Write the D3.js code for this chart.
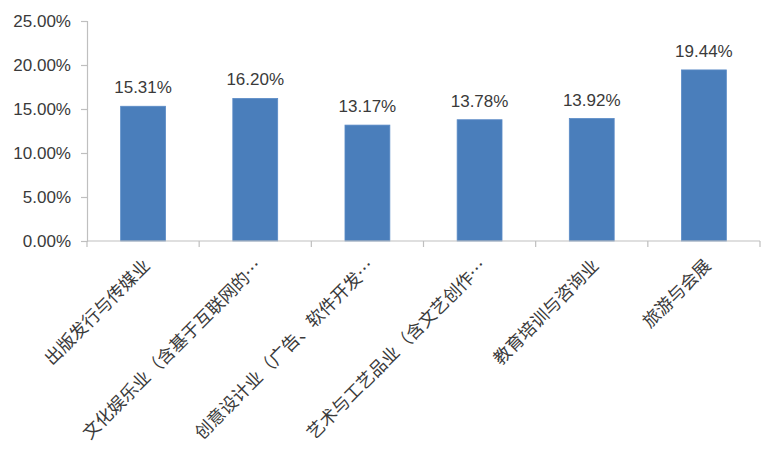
<!DOCTYPE html>
<html>
<head>
<meta charset="utf-8">
<script src="https://cdn.jsdelivr.net/npm/d3@7"></script>
<style>
  html, body { margin: 0; padding: 0; background: #fff; }
  svg { display: block; }
</style>
</head>
<body>
<svg id="chart" width="781" height="458"></svg>
<script>
const categories = [
  "出版发行与传媒业",
  "文化娱乐业（含基于互联网的…",
  "创意设计业（广告、软件开发…",
  "艺术与工艺品业（含文艺创作…",
  "教育培训与咨询业",
  "旅游与会展"
];
const values = [15.31, 16.20, 13.17, 13.78, 13.92, 19.44];
const yTicks = [0, 5, 10, 15, 20, 25];

(function () {
const svg = d3.select("#chart");
const mLeft = 87, mRight = 760, mTop = 21, mBottom = 241;
const axisColor = "#bfbfbf";
const textColor = "#3a3a3a";

const x = d3.scaleBand().domain(categories).range([mLeft, mRight]).padding(0);
const y = d3.scaleLinear().domain([0, 25]).range([mBottom, mTop]);
const fmt = v => v.toFixed(2) + "%";

// y axis
const yAxis = d3.axisLeft(y).tickValues(yTicks).tickFormat(fmt).tickSize(6).tickPadding(10);
const gy = svg.append("g").attr("transform", `translate(${mLeft},0)`).call(yAxis);
gy.select(".domain").attr("stroke", axisColor).attr("stroke-width", 1.2);
gy.selectAll(".tick line").attr("stroke", axisColor).attr("stroke-width", 1.2);
gy.selectAll(".tick text")
  .attr("fill", textColor)
  .style("font-family", "'Liberation Sans', Arial, sans-serif")
  .style("font-size", "17px");

// bars
const barFrac = 0.4;
svg.append("g").selectAll("rect")
  .data(values)
  .join("rect")
  .attr("x", (d, i) => x(categories[i]) + x.bandwidth() * (1 - barFrac) / 2)
  .attr("width", x.bandwidth() * barFrac)
  .attr("y", d => y(d))
  .attr("height", d => y(0) - y(d))
  .attr("fill", "#4a7ebb")
  .attr("stroke", "#5a8ac6")
  .attr("stroke-width", 0.8);

// data labels
svg.append("g").selectAll("text")
  .data(values)
  .join("text")
  .attr("x", (d, i) => x(categories[i]) + x.bandwidth() / 2)
  .attr("y", d => y(d) - 13)
  .attr("text-anchor", "middle")
  .attr("fill", textColor)
  .style("font-family", "'Liberation Sans', Arial, sans-serif")
  .style("font-size", "17px")
  .text(d => fmt(d));

// x axis line and ticks at category boundaries
const gx = svg.append("g");
gx.append("line")
  .attr("x1", mLeft).attr("x2", mRight)
  .attr("y1", y(0)).attr("y2", y(0))
  .attr("stroke", axisColor).attr("stroke-width", 1.2);
const bounds = categories.map(c => x(c)).concat([x(categories[categories.length - 1]) + x.bandwidth()]);
gx.selectAll("line.tk")
  .data(bounds)
  .join("line")
  .attr("class", "tk")
  .attr("x1", d => d).attr("x2", d => d)
  .attr("y1", y(0)).attr("y2", y(0) + 6)
  .attr("stroke", axisColor).attr("stroke-width", 1.2);

// rotated category labels
gx.selectAll("text")
  .data(categories)
  .join("text")
  .attr("transform", c => `translate(${x(c) + x.bandwidth() / 2 + 8},${y(0) + 26}) rotate(-45)`)
  .attr("text-anchor", "end")
  .attr("fill", textColor)
  .style("font-family", "'Noto Sans CJK SC', sans-serif")
  .style("font-size", "17.5px")
  .text(c => c);
})();
</script>
</body>
</html>
